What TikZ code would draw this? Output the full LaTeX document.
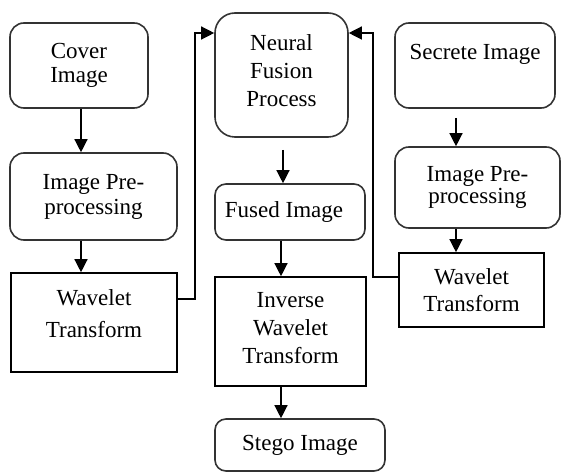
\documentclass[tikz,border=0pt]{standalone}
\usepackage{fontspec}
\setmainfont{Liberation Serif}
\usetikzlibrary{arrows.meta}
\newcommand{\mylift}[2]{\raisebox{#1}[\height][\depth]{#2}}
\begin{document}
\begin{tikzpicture}[x=1pt,y=-1pt,
  rbox/.style={draw=black!80, line width=1.6pt, rounded corners=14pt, inner sep=0pt, align=center, text=black, font=\fontsize{23}{27}\selectfont},
  sbox/.style={draw=black, line width=1.6pt, inner sep=0pt, align=center, text=black, font=\fontsize{23}{27}\selectfont},
  arr/.style={line width=1.3pt, -{Triangle[length=13pt,width=13pt]}}
]
\useasboundingbox[fill=white] (0,0) rectangle (563,473);

\node[rbox, minimum width=138pt, minimum height=85pt, font=\fontsize{23}{24}\selectfont] (cover) at (79,65.5) {Cover\\Image};
\node[rbox, minimum width=167pt, minimum height=87pt, font=\fontsize{23}{25}\selectfont] (lpre) at (93.5,196.5) {Image Pre-\\processing};
\node[sbox, minimum width=166pt, minimum height=99pt, font=\fontsize{23}{32}\selectfont] (lwav) at (94,322.5) {\mylift{9pt}{Wavelet}\\\mylift{9pt}{Transform}};
\node[rbox, rounded corners=20pt, minimum width=133pt, minimum height=124pt, font=\fontsize{23}{28}\selectfont] (neural) at (281.5,75) {\mylift{4pt}{Neural}\\\mylift{4pt}{Fusion}\\\mylift{4pt}{Process}};
\node[rbox, rounded corners=11pt, minimum width=150pt, minimum height=56pt] (fused) at (290,212) {Fused Image\hspace*{12pt}};
\node[sbox, minimum width=151pt, minimum height=109pt, font=\fontsize{23}{28}\selectfont] (inv) at (290.5,331.5) {\mylift{3pt}{Inverse}\\\mylift{3pt}{Wavelet}\\\mylift{3pt}{Transform}};
\node[rbox, rounded corners=11pt, minimum width=170pt, minimum height=52pt] (stego) at (300,445) {Stego Image};
\node[rbox, minimum width=160pt, minimum height=85pt] (secret) at (475,65.5) {\mylift{11pt}{Secrete Image}};
\node[rbox, minimum width=165pt, minimum height=81pt, font=\fontsize{23}{20}\selectfont] (rpre) at (477.5,187.5) {Image Pre-\\processing};
\node[sbox, minimum width=145pt, minimum height=74pt, font=\fontsize{23}{27}\selectfont] (rwav) at (471.5,290) {Wavelet\\Transform};

\coordinate (lx) at (81,0);
\coordinate (mx) at (281,0);
\coordinate (ns) at (283,150);
\coordinate (ss) at (456,118);
\coordinate (lc) at (195,33);
\coordinate (ly) at (0,299);
\coordinate (rc) at (373,33);
\coordinate (ry) at (0,277);

\draw[arr] (cover.south -| lx) -- (lpre.north -| lx);
\draw[arr] (lpre.south -| lx) -- (lwav.north -| lx);
\draw[arr] (lwav.east |- ly) -| (lc) -- (lc -| neural.west);
\draw[arr] (ns) -- (ns |- fused.north);
\draw[arr] (fused.south -| mx) -- (inv.north -| mx);
\draw[arr] (inv.south -| mx) -- (stego.north -| mx);
\draw[arr] (ss) -- (ss |- rpre.north);
\draw[arr] (rpre.south -| ss) -- (rwav.north -| ss);
\draw[arr] (rwav.west |- ry) -| (rc) -- (rc -| neural.east);
\end{tikzpicture}
\end{document}
